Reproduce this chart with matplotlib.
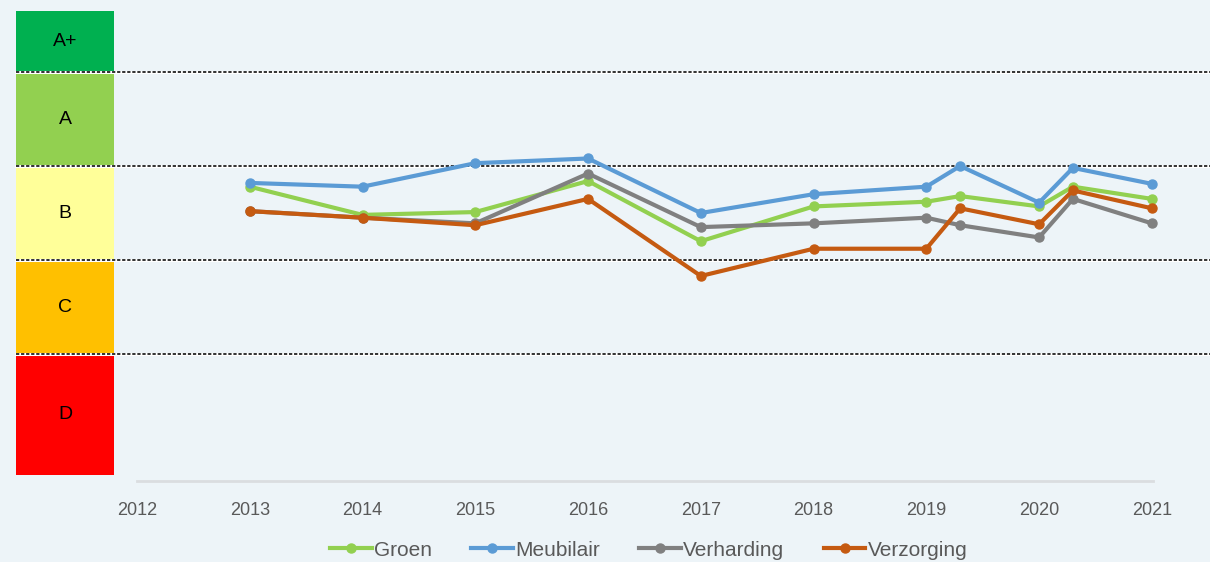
import matplotlib
matplotlib.use("Agg")
import matplotlib.pyplot as plt
from matplotlib.patches import Rectangle

# data (score scale: C/D border = 1, B/C = 2, A/B = 3, A/A+ = 4)
years = [2013, 2014, 2015, 2016, 2017, 2018, 2019, 2019.3, 2020, 2020.3, 2021]
year_ticks = [2012, 2013, 2014, 2015, 2016, 2017, 2018, 2019, 2020, 2021]
groen = [2.78, 2.48, 2.51, 2.84, 2.20, 2.57, 2.62, 2.68, 2.57, 2.78, 2.65]
meubilair = [2.82, 2.78, 3.03, 3.08, 2.50, 2.70, 2.78, 3.00, 2.61, 2.98, 2.81]
verharding = [2.52, 2.45, 2.39, 2.92, 2.35, 2.39, 2.45, 2.37, 2.24, 2.65, 2.39]
verzorging = [2.52, 2.45, 2.37, 2.65, 1.83, 2.12, 2.12, 2.55, 2.38, 2.74, 2.55]

grades = ["D", "C", "B", "A", "A+"]
grade_bounds = [-0.29, 1, 2, 3, 4, 4.65]
grade_colours = ["#FF0000", "#FFC000", "#FFFF99", "#92D050", "#00B050"]

series = [("Groen", groen, "#92D050"),
          ("Meubilair", meubilair, "#5B9BD5"),
          ("Verharding", verharding, "#808080"),
          ("Verzorging", verzorging, "#C55A11")]

bg = "#EDF4F8"
txt = "#595959"

fig = plt.figure(figsize=(12.1, 5.62), dpi=100, facecolor=bg)
ax = fig.add_axes([16 / 1210, 1 - 481 / 562, 1137 / 1210, 470 / 562])
ax.set_facecolor(bg)
ax.set_xlim(2010.927, 2021.01)
ax.set_ylim(-0.351, 4.649)
for s in ax.spines.values():
    s.set_visible(False)

# grade bands on the left
band_x0, band_x1 = 2010.927, 2011.796
for i, g in enumerate(grades):
    y0, y1 = grade_bounds[i], grade_bounds[i + 1]
    ax.add_patch(Rectangle((band_x0, y0), band_x1 - band_x0, y1 - y0,
                           facecolor=grade_colours[i], edgecolor="none", zorder=1))
    ax.text((band_x0 + band_x1) / 2, (y0 + y1) / 2, g, ha="center", va="center",
            fontsize=14, family="Liberation Sans", color="black", zorder=2)

# dashed borders running to the right edge
for b in grade_bounds[1:-1]:
    ax.plot([band_x0, 2021.6], [b, b], color="white", lw=2.2, clip_on=False, zorder=3)
    ax.plot([band_x0, 2021.6], [b, b], color="#222222", lw=1.3, ls=(0, (1.8, 1.0)),
            clip_on=False, zorder=3)

# x axis line
ax.plot([2012, 2021.01], [-0.351, -0.351], color="#DADDE0", lw=2, clip_on=False, zorder=2)

for name, vals, c in series:
    ax.plot(years, vals, color=c, lw=3, marker="o", markersize=6.5, label=name,
            solid_joinstyle="round", clip_on=False, zorder=4)

ax.set_yticks([])
ax.set_xticks(year_ticks)
ax.set_xticklabels([str(y) for y in year_ticks], fontsize=13, color=txt,
                   family="Liberation Sans")
ax.tick_params(axis="x", length=0, pad=15)

leg = fig.legend(loc="center", bbox_to_anchor=(0.536, 0.021), ncol=4, frameon=False,
                 prop={"family": "Liberation Sans", "size": 15}, handlelength=2.0,
                 handletextpad=0.1, columnspacing=1.9, labelcolor=txt,
                 borderpad=0.1)

fig.savefig("out.png", dpi=100, facecolor=bg)
